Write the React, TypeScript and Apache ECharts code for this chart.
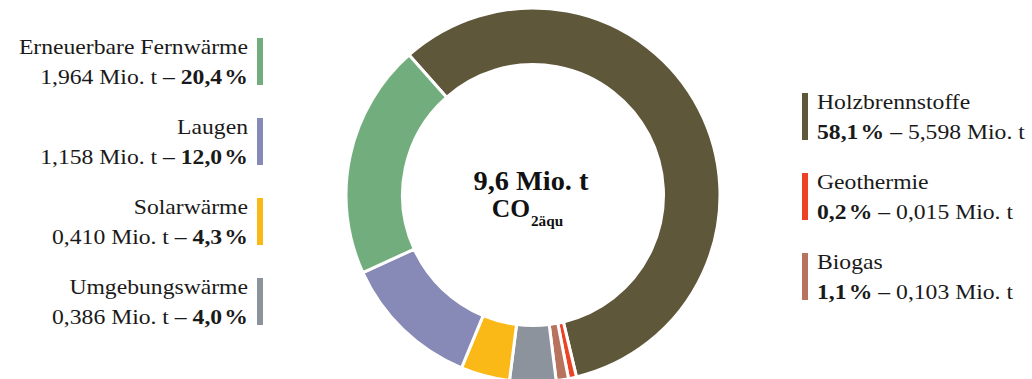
import React, { useEffect, useRef } from "react";
import * as echarts from "echarts";

// Renewable heat sources and their CO2-equivalent savings
const categories = [
  "Holzbrennstoffe",
  "Geothermie",
  "Biogas",
  "Umgebungswärme",
  "Solarwärme",
  "Laugen",
  "Erneuerbare Fernwärme",
];
const emissionsMioT = [5.598, 0.015, 0.103, 0.386, 0.41, 1.158, 1.964];
const sharesPct = [58.1, 0.2, 1.1, 4.0, 4.3, 12.0, 20.4];
const colors = ["#5f573a", "#ec4326", "#b8735f", "#8d939d", "#fbb917", "#8789b6", "#72ae7d"];

// Which categories are listed on each side
const leftItems = [6, 5, 4, 3];
const rightItems = [0, 1, 2];

const centerTitle = "9,6 Mio. t";
const centerUnit = "CO";
const centerUnitSub = "2äqu";

const FONT = '"Liberation Serif", "Times New Roman", serif';
const LEGEND_SIZE = 21.5;
const STRETCH = 1.1;
const INK = "#1a1a1a";

const fmt = (v: number, digits: number) => v.toFixed(digits).replace(".", ",");

export default function App() {
  const ref = useRef<HTMLDivElement>(null);

  useEffect(() => {
    if (!ref.current) return;
    const chart = echarts.init(ref.current, null, { renderer: "svg" });

    const baseText = {
      fontFamily: FONT,
      fontSize: LEGEND_SIZE,
      fill: INK,
      verticalAlign: "middle",
    };
    const rich = {
      b: { fontFamily: FONT, fontSize: LEGEND_SIZE, fontWeight: "bold", fill: INK },
      p: {
        fontFamily: FONT,
        fontSize: LEGEND_SIZE,
        fontWeight: "bold",
        fill: INK,
        padding: [0, 0, 0, 2],
      },
    };
    const pct = (i: number) => `{b|${fmt(sharesPct[i], 1)}}{p|%}`;

    const graphics: any[] = [];

    leftItems.forEach((idx, k) => {
      const top = 38 + 80 * k;
      graphics.push({
        type: "rect",
        shape: { x: 257, y: top, width: 6, height: 47 },
        style: { fill: colors[idx] },
        silent: true,
      });
      graphics.push({
        type: "text",
        x: 248,
        y: top + 9,
        scaleX: STRETCH,
        style: { ...baseText, text: categories[idx], align: "right" },
        silent: true,
      });
      graphics.push({
        type: "text",
        x: 248,
        y: top + 39,
        scaleX: STRETCH,
        style: {
          ...baseText,
          align: "right",
          text: `${fmt(emissionsMioT[idx], 3)} Mio. t – ${pct(idx)}`,
          rich,
        },
        silent: true,
      });
    });

    rightItems.forEach((idx, k) => {
      const top = 93 + 80 * k;
      graphics.push({
        type: "rect",
        shape: { x: 802, y: top, width: 6, height: 47 },
        style: { fill: colors[idx] },
        silent: true,
      });
      graphics.push({
        type: "text",
        x: 817,
        y: top + 9,
        scaleX: STRETCH,
        style: { ...baseText, text: categories[idx], align: "left" },
        silent: true,
      });
      graphics.push({
        type: "text",
        x: 817,
        y: top + 39,
        scaleX: STRETCH,
        style: {
          ...baseText,
          align: "left",
          text: `${pct(idx)} – ${fmt(emissionsMioT[idx], 3)} Mio. t`,
          rich,
        },
        silent: true,
      });
    });

    // Total in the middle of the ring
    const centerStyle = {
      fontFamily: FONT,
      fontWeight: "bold",
      fill: "#111",
      verticalAlign: "middle",
    };
    graphics.push({
      type: "text",
      x: 531,
      y: 181,
      scaleX: 1.05,
      style: { ...centerStyle, text: centerTitle, fontSize: 27, align: "center" },
      silent: true,
    });
    graphics.push({
      type: "text",
      x: 530,
      y: 208,
      scaleX: 1.02,
      style: { ...centerStyle, text: centerUnit, fontSize: 25, align: "right" },
      silent: true,
    });
    graphics.push({
      type: "text",
      x: 531,
      y: 221,
      scaleX: 1.05,
      style: { ...centerStyle, text: centerUnitSub, fontSize: 14.5, align: "left" },
      silent: true,
    });

    chart.setOption({
      animation: false,
      backgroundColor: "#ffffff",
      series: [
        {
          type: "pie",
          radius: [130.5, 187],
          center: [533, 195],
          startAngle: 131.5,
          clockwise: true,
          minAngle: 2.5,
          silent: true,
          label: { show: false },
          labelLine: { show: false },
          itemStyle: { borderColor: "#ffffff", borderWidth: 3 },
          data: categories.map((name, i) => ({
            name,
            value: emissionsMioT[i],
            itemStyle: { color: colors[i] },
          })),
        },
      ],
      graphic: graphics,
    });

    return () => chart.dispose();
  }, []);

  return (
    <div
      ref={ref}
      style={{ position: "absolute", left: 0, top: 0, width: 1032, height: 379 }}
    />
  );
}
